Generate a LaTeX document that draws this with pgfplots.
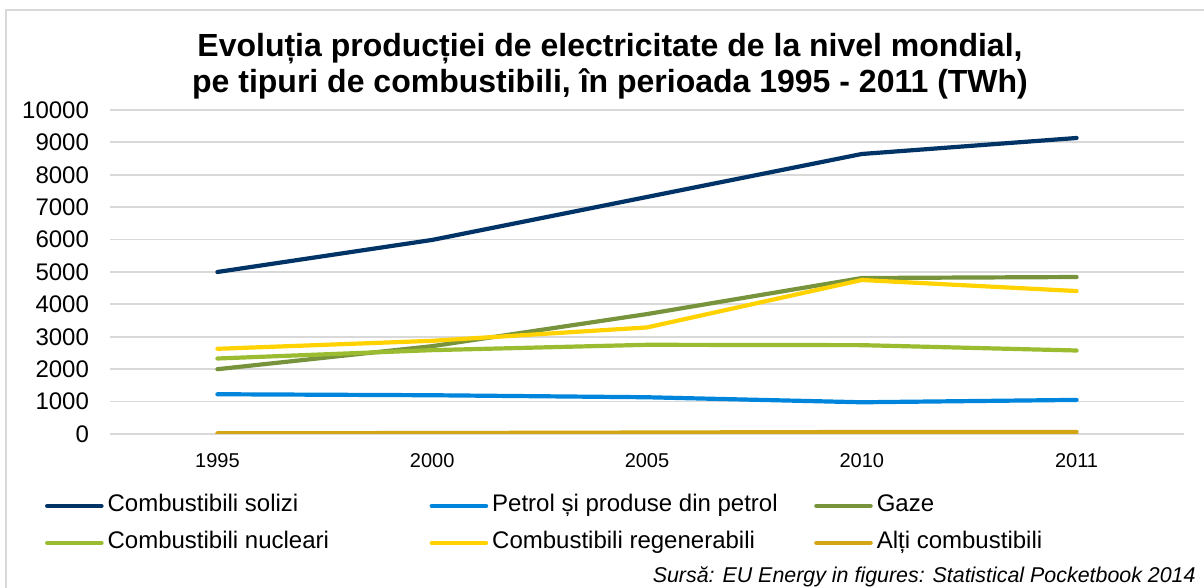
\documentclass[border=0pt]{standalone}
\usepackage{fontspec}
\setmainfont{Liberation Sans}
\usepackage{pgfplots}
\pgfplotsset{compat=1.18}
\definecolor{csol}{RGB}{0,51,102}
\definecolor{cpet}{RGB}{0,133,221}
\definecolor{cgaz}{RGB}{119,147,60}
\definecolor{cnuc}{RGB}{155,187,48}
\definecolor{creg}{RGB}{255,210,0}
\definecolor{calt}{RGB}{210,166,20}
\definecolor{cgrid}{RGB}{217,217,217}
\newcommand{\lentry}[1]{\makebox[163pt][l]{\hspace{2pt}#1}}
\begin{document}
\begin{tikzpicture}
\useasboundingbox (0pt,0pt) rectangle (602pt,294pt);
\draw[cgrid, line width=1pt] (3pt,-10pt) -- (3pt,289pt) -- (615pt,289pt);
\node[font=\fontsize{16}{18}\selectfont\bfseries, align=center] at (305pt,261pt)
  {Evoluția producției de electricitate de la nivel mondial,\\pe tipuri de combustibili, în perioada 1995 - 2011 (TWh)};
\begin{axis}[at={(55pt,77pt)}, anchor=south west, width=537pt, height=162pt, scale only axis,
  xmin=-0.5, xmax=4.5, ymin=0, ymax=10000,
  xtick={0,1,2,3,4}, xticklabels={1995,2000,2005,2010,2011},
  ytick={0,1000,...,10000},
  axis line style={draw=none}, major tick length=0pt,
  ymajorgrids, grid style={cgrid, line width=0.9pt},
  /pgf/number format/.cd, 1000 sep={}, assume math mode=true, /pgfplots/.cd,
  scaled y ticks=false,
  yticklabel style={font=\fontsize{12}{14}\selectfont, xshift=-7pt},
  xticklabel style={font=\fontsize{10}{12}\selectfont, yshift=-6pt},
  every axis plot/.append style={line width=2.1pt, line cap=round, line join=round},
  legend columns=3,
  legend style={at={(-0.0605,-0.185)}, anchor=north west, draw=none, fill=none,
    inner sep=0pt, outer sep=0pt, font=\fontsize{12}{14}\selectfont,
    column sep=0pt, row sep=6.5pt,
    nodes={inner xsep=0pt, inner ysep=0pt, text height=9pt, text depth=3pt}},
  legend cell align=left,
  legend image code/.code={\draw[#1, line width=2.3pt] (0pt,0pt) -- (27pt,0pt);},
]
\addplot[csol] coordinates {(0,5000) (1,5990) (2,7315) (3,8642) (4,9136)};
\addlegendentry{\lentry{Combustibili solizi}}
\addplot[cpet] coordinates {(0,1227) (1,1196) (2,1134) (3,979) (4,1052)};
\addlegendentry{\lentry{Petrol și produse din petrol}}
\addplot[cgaz] coordinates {(0,2000) (1,2711) (2,3701) (3,4814) (4,4845)};
\addlegendentry{\lentry{Gaze}}
\addplot[cnuc] coordinates {(0,2330) (1,2588) (2,2753) (3,2742) (4,2577)};
\addlegendentry{\lentry{Combustibili nucleari}}
\addplot[creg] coordinates {(0,2629) (1,2876) (2,3289) (3,4753) (4,4412)};
\addlegendentry{\lentry{Combustibili regenerabili}}
\addplot[calt] coordinates {(0,21) (1,30) (2,45) (3,62) (4,62)};
\addlegendentry{\lentry{Alți combustibili}}
\end{axis}
\node[font=\fontsize{10.7}{12}\selectfont\itshape, anchor=base east, inner sep=0pt] at (598pt,2.5pt)
  {Sursă: EU Energy in figures: Statistical Pocketbook 2014};
\end{tikzpicture}
\end{document}
